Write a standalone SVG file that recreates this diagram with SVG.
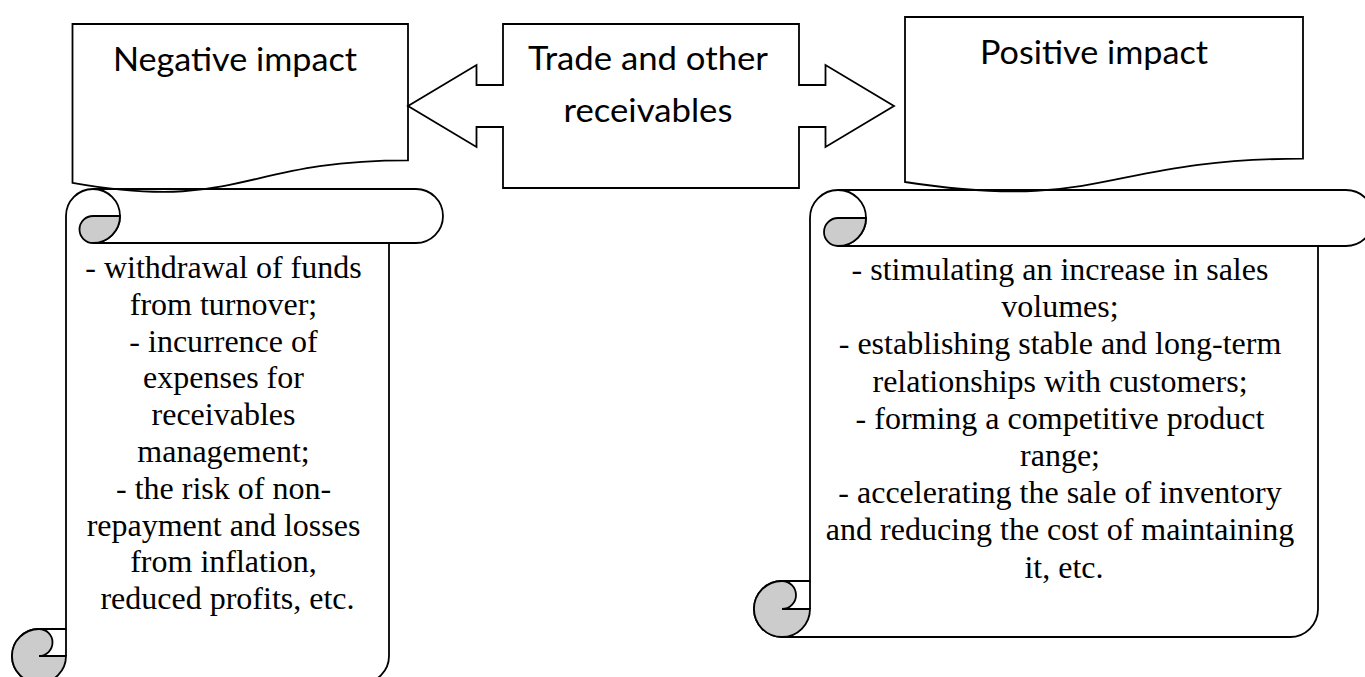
<svg xmlns="http://www.w3.org/2000/svg" width="1365" height="677" viewBox="0 0 1365 677">
  <style>
    .outline { fill: #ffffff; stroke: #000000; stroke-width: 1.8; stroke-linejoin: miter; }
    .line { fill: none; stroke: #000000; stroke-width: 1.8; }
    .curl { fill: #cccccc; stroke: #000000; stroke-width: 1.8; }
    .head { font-family: Lato, "Open Sans", "Liberation Sans", sans-serif; font-size: 33px; fill: #000000; text-anchor: middle; }
    .body { font-family: "Liberation Serif", "Times New Roman", serif; font-size: 32px; fill: #000000; text-anchor: middle; }
  </style>

  <rect x="0" y="0" width="1365" height="677" fill="#ffffff"/>

  <!-- central double-headed callout -->
  <g id="node-receivables">
    <path class="outline" d="M503,24 L799,24 L799,85 L825.5,85 L825.5,65 L894,106 L825.5,147 L825.5,127 L799,127 L799,188 L503,188 L503,127 L476.5,127 L476.5,147 L408,106 L476.5,65 L476.5,85 L503,85 Z"/>
    <text class="head" x="648" y="70" textLength="240" lengthAdjust="spacingAndGlyphs">Trade and other</text>
    <text class="head" x="648" y="122" textLength="169" lengthAdjust="spacingAndGlyphs">receivables</text>
  </g>

  <!-- left scroll: negative effects -->
  <g id="node-negative-list">
    <path class="outline" d="M93,189 L416,189 A27,27 0 0 1 416,243 L389,243 L389,656 A27,27 0 0 1 362,683 L39,683 A27,27 0 0 1 12,656 A27,27 0 0 1 39,629 L66,629 L66,216 A27,27 0 0 1 93,189 Z"/>
    <path class="line" d="M93,189 A27,27 0 0 1 93,243 L389,243 M66,629 L66,656"/>
    <path class="curl" d="M93,216 L120,216 A27,27 0 0 1 93,243 A13.5,13.5 0 0 1 93,216 Z"/>
    <path class="curl" d="M39,629 A27,27 0 0 0 12,656 A27,27 0 0 0 39,683 A27,27 0 0 0 66,656 L39,656 A13.5,13.5 0 0 0 39,629 Z"/>
    <text class="body" x="227.5">
      <tspan x="227.5" y="278">- withdrawal of funds</tspan>
      <tspan x="227.5" y="314.8">from turnover;</tspan>
      <tspan x="227.5" y="351.6">- incurrence of</tspan>
      <tspan x="227.5" y="388.4">expenses for</tspan>
      <tspan x="227.5" y="425.2">receivables</tspan>
      <tspan x="227.5" y="462">management;</tspan>
      <tspan x="227.5" y="498.8">- the risk of non-</tspan>
      <tspan x="227.5" y="535.6">repayment and losses</tspan>
      <tspan x="227.5" y="572.4">from inflation,</tspan>
      <tspan x="227.5" y="609.2">reduced profits, etc.</tspan>
    </text>
  </g>

  <!-- right scroll: positive effects -->
  <g id="node-positive-list">
    <path class="outline" d="M838,190 L1346,190 A28,28 0 0 1 1346,246 L1318,246 L1318,609 A28,28 0 0 1 1290,637 L782,637 A28,28 0 0 1 754,609 A28,28 0 0 1 782,581 L810,581 L810,218 A28,28 0 0 1 838,190 Z"/>
    <path class="line" d="M838,190 A28,28 0 0 1 838,246 L1318,246 M810,581 L810,609"/>
    <path class="curl" d="M838,218 L866,218 A28,28 0 0 1 838,246 A14,14 0 0 1 838,218 Z"/>
    <path class="curl" d="M782,581 A28,28 0 0 0 754,609 A28,28 0 0 0 782,637 A28,28 0 0 0 810,609 L782,609 A14,14 0 0 0 782,581 Z"/>
    <text class="body" x="1064">
      <tspan x="1064" y="280">- stimulating an increase in sales</tspan>
      <tspan x="1064" y="317.2">volumes;</tspan>
      <tspan x="1064" y="354.4">- establishing stable and long-term</tspan>
      <tspan x="1064" y="391.6">relationships with customers;</tspan>
      <tspan x="1064" y="428.8">- forming a competitive product</tspan>
      <tspan x="1064" y="466">range;</tspan>
      <tspan x="1064" y="503.2">- accelerating the sale of inventory</tspan>
      <tspan x="1064" y="540.4">and reducing the cost of maintaining</tspan>
      <tspan x="1064" y="577.6">it, etc.</tspan>
    </text>
  </g>

  <!-- document-shaped headers, drawn over the scroll tops -->
  <g id="node-negative">
    <path class="line" d="M72.5,24 L408,24 L408,160.3 C240.25,160.3 240.25,212.3 72.5,182.8 Z"/>
    <text class="head" x="235" y="71" textLength="244" lengthAdjust="spacingAndGlyphs">Negative impact</text>
  </g>

  <g id="node-positive">
    <path class="line" d="M905,17 L1303,17 L1303,158.7 C1104,158.7 1104,212.7 905,182 Z"/>
    <text class="head" x="1094" y="64" textLength="228" lengthAdjust="spacingAndGlyphs">Positive impact</text>
  </g>

  <g id="connectors"></g>
</svg>
